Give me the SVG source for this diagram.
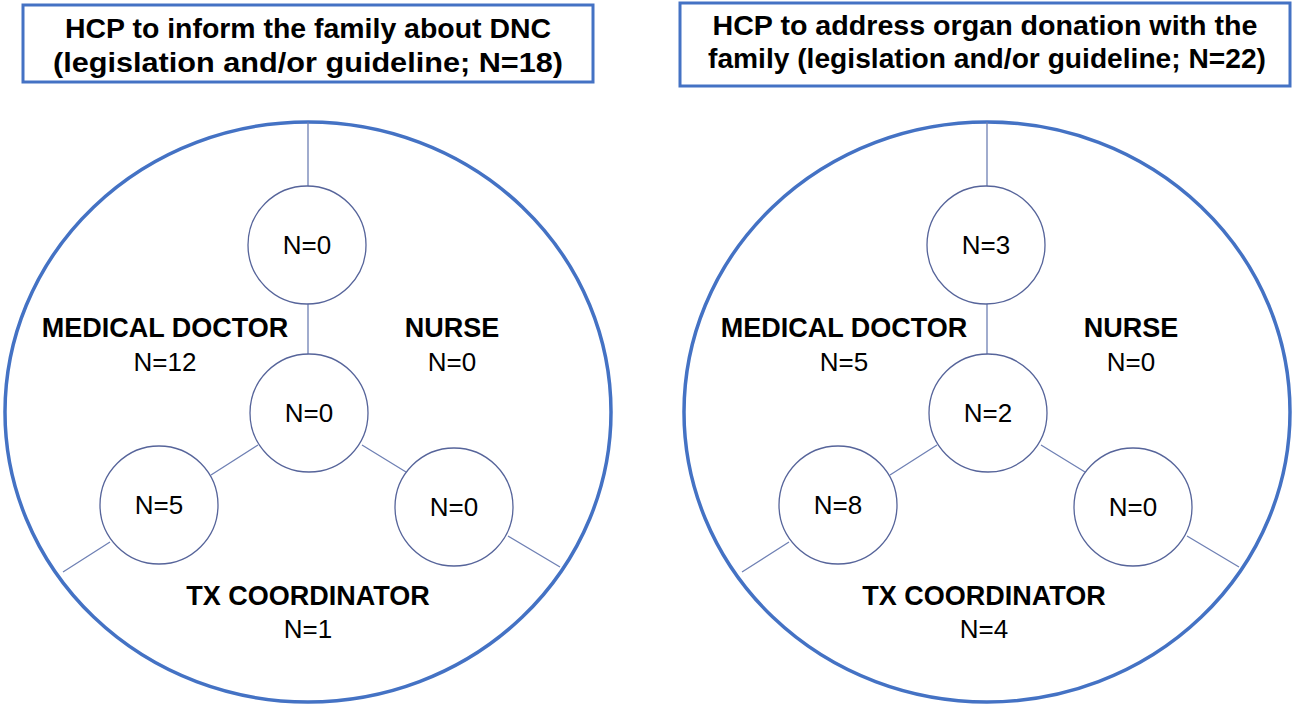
<svg xmlns="http://www.w3.org/2000/svg" width="1301" height="708" viewBox="0 0 1301 708">
<style>
.box{fill:#fff;stroke:#4472C4;stroke-width:3}
.big{fill:#fff;stroke:#4472C4;stroke-width:3.5}
.n{fill:#fff;stroke:#56649A;stroke-width:1.3}
.c{stroke:#6F80B4;stroke-width:1.3;fill:none}
.t{font-family:"Liberation Sans",Arial,sans-serif;font-size:26px;fill:#000;text-anchor:middle}
.b{font-weight:bold;font-size:27px}
.h{font-family:"Liberation Sans",Arial,sans-serif;font-weight:bold;font-size:27px;text-anchor:middle}
</style>
<rect fill="#fff" width="1301" height="708"/>
<g id="title-left"><rect class="box" x="23" y="5" width="570" height="77"/>
<text class="h" x="308" y="38" textLength="486" lengthAdjust="spacingAndGlyphs">HCP to inform the family about DNC</text>
<text class="h" x="308" y="72" textLength="510" lengthAdjust="spacingAndGlyphs">(legislation and/or guideline; N=18)</text></g>
<g id="title-right"><rect class="box" x="680" y="3" width="610" height="83"/>
<text class="h" x="985" y="35" textLength="545" lengthAdjust="spacingAndGlyphs">HCP  to address organ donation with the</text>
<text class="h" x="987" y="68" textLength="558" lengthAdjust="spacingAndGlyphs">family (legislation and/or guideline; N=22)</text></g>
<g id="panel-left-frame"><ellipse class="big" cx="308" cy="412" rx="303" ry="290"/></g>
<g id="panel-right-frame"><ellipse class="big" cx="987" cy="412" rx="303" ry="290"/></g>
<g id="connectors">
<path class="c" d="M308 122V186M308 303V355M258 445L211 475M110 542L63 572M362 445L406 472M508 536L560 567"/>
<path class="c" d="M987 122V186M987 303V355M937 445L890 475M789 542L742 572M1041 445L1085 472M1187 536L1239 567"/>
</g>
<g id="l-top"><circle class="n" cx="307" cy="245" r="59"/><text class="t" x="307" y="254">N=0</text></g>
<g id="l-center"><circle class="n" cx="309" cy="413" r="59"/><text class="t" x="309" y="422">N=0</text></g>
<g id="l-left"><circle class="n" cx="159" cy="505" r="59"/><text class="t" x="159" y="514">N=5</text></g>
<g id="l-right"><circle class="n" cx="454" cy="507" r="59"/><text class="t" x="454" y="516">N=0</text></g>
<g id="l-labels">
<text class="t b" x="165" y="337">MEDICAL DOCTOR</text><text class="t" x="165" y="371">N=12</text>
<text class="t b" x="452" y="337">NURSE</text><text class="t" x="452" y="371">N=0</text>
<text class="t b" x="308" y="605">TX COORDINATOR</text><text class="t" x="308" y="638">N=1</text>
</g>
<g id="r-top"><circle class="n" cx="986" cy="245" r="59"/><text class="t" x="986" y="254">N=3</text></g>
<g id="r-center"><circle class="n" cx="988" cy="413" r="59"/><text class="t" x="988" y="422">N=2</text></g>
<g id="r-left"><circle class="n" cx="838" cy="505" r="59"/><text class="t" x="838" y="514">N=8</text></g>
<g id="r-right"><circle class="n" cx="1133" cy="507" r="59"/><text class="t" x="1133" y="516">N=0</text></g>
<g id="r-labels">
<text class="t b" x="844" y="337">MEDICAL DOCTOR</text><text class="t" x="844" y="371">N=5</text>
<text class="t b" x="1131" y="337">NURSE</text><text class="t" x="1131" y="371">N=0</text>
<text class="t b" x="984" y="605">TX COORDINATOR</text><text class="t" x="984" y="638">N=4</text>
</g>
</svg>
